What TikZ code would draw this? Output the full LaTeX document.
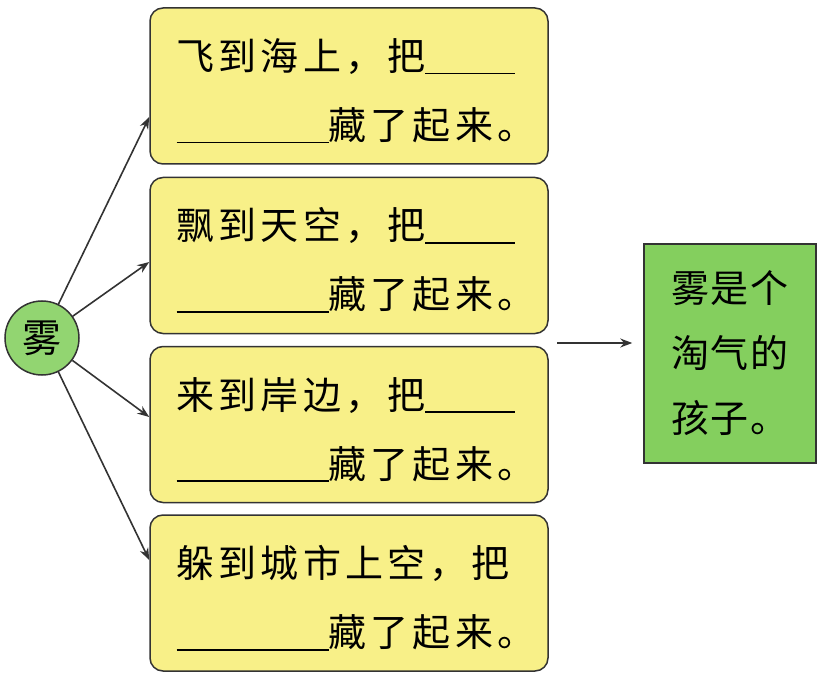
\documentclass[tikz,border=0pt]{standalone}
\usepackage{fontspec}
\usetikzlibrary{arrows.meta,calc}
\newfontfamily\cjk[LetterSpace=11]{Noto Sans CJK SC}
\newfontfamily\cjkg[LetterSpace=5]{Noto Sans CJK SC}
\newfontfamily\cjkc{Noto Sans CJK SC}
\newcommand\blank[1]{\rule[-4pt]{#1}{1.6pt}}
\definecolor{boxyellow}{HTML}{F8F088}
\definecolor{boxgreen}{HTML}{84CF5E}
\definecolor{circgreen}{HTML}{92D571}
\definecolor{edge}{HTML}{333333}
\tikzset{
  ybox/.style={draw=edge, line width=1.5pt, fill=boxyellow, rounded corners=13pt,
    minimum width=398pt, minimum height=156pt, inner sep=0pt,
    text width=345pt, align=left, font=\cjk\fontsize{38}{69}\selectfont},
  gbox/.style={draw=edge, line width=1.5pt, fill=boxgreen,
    minimum width=172pt, minimum height=219pt, inner sep=0pt,
    align=left, font=\cjkg\fontsize{38}{65}\selectfont},
  fogc/.style={circle, draw=edge, line width=1.5pt, fill=circgreen,
    minimum size=74pt, inner sep=0pt, font=\cjkc\fontsize{39}{40}\selectfont},
  arr/.style={draw=edge, line width=1.6pt, -{Stealth[length=12pt,width=9pt]}}
}
\begin{document}
\begin{tikzpicture}[x=1pt,y=-1pt]
\useasboundingbox (0,0) rectangle (822,679);
\node[ybox] (b1) at (349,86) {\rule{0pt}{42pt}飞到海上，把\blank{90pt}\\\blank{152pt}藏了起来。};
\node[ybox] (b2) at (349,255.5) {\rule{0pt}{42pt}飘到天空，把\blank{90pt}\\\blank{152pt}藏了起来。};
\node[ybox] (b3) at (349,424.5) {\rule{0pt}{42pt}来到岸边，把\blank{90pt}\\\blank{152pt}藏了起来。};
\node[ybox] (b4) at (349,593) {\rule{0pt}{42pt}躲到城市上空，把\\\blank{152pt}藏了起来。};
\node[fogc] (fog) at (42,338) {雾};
\node[gbox] (g) at (730,353.5) {雾是个\\淘气的\\孩子。};
\draw[arr] (fog) -- ([yshift=-31pt]b1.west);
\draw[arr] (fog) -- ([yshift=-6.5pt]b2.west);
\draw[arr] (fog) -- ([yshift=7.5pt]b3.west);
\draw[arr] (fog) -- ([yshift=33pt]b4.west);
\coordinate (s) at (557,343);
\draw[arr] (s) -- ([xshift=-11pt]g.west |- s);
\end{tikzpicture}
\end{document}
